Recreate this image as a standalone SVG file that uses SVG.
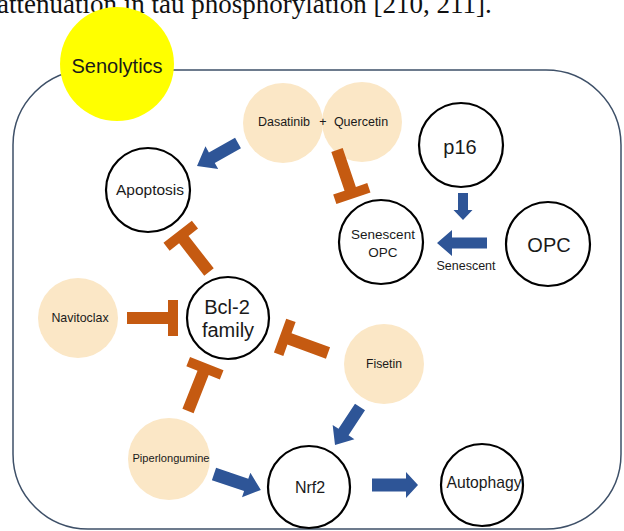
<svg xmlns="http://www.w3.org/2000/svg" width="624" height="531" viewBox="0 0 624 531">
<style>
.t{font-family:"Liberation Sans",Arial,sans-serif;fill:#1a1a1a;text-anchor:middle}
.n{fill:#fff;stroke:#000;stroke-width:2.2}
.d{fill:#fbe7c6}
.b{fill:#2e5597}
.o{fill:#c55a11}
</style>
<rect width="624" height="531" fill="#fff"/>
<text x="-3" y="13" style="font-family:'Liberation Serif','Times New Roman',serif;font-size:27px;fill:#111">attenuation in tau phosphorylation [210, 211].</text>
<rect id="frame" x="13" y="70" width="608" height="459" rx="75" ry="75" fill="none" stroke="#3e5068" stroke-width="1.5"/>
<g id="senolytics"><circle cx="117" cy="64" r="57" fill="#ffff00"/><text class="t" x="117" y="73" font-size="20">Senolytics</text></g>
<g id="dasatinib"><circle class="d" cx="283" cy="123" r="40"/><text class="t" x="284" y="126" font-size="12.5">Dasatinib</text></g>
<g id="quercetin"><circle class="d" cx="362" cy="122" r="40"/><text class="t" x="361" y="126" font-size="12.5">Quercetin</text></g>
<text class="t" x="323" y="126" font-size="12.5">+</text>
<g id="apoptosis"><circle class="n" cx="148" cy="190" r="42"/><text class="t" x="150" y="195" font-size="15.5">Apoptosis</text></g>
<g id="p16"><circle class="n" cx="461" cy="145" r="42"/><text class="t" x="460" y="154" font-size="20">p16</text></g>
<g id="senescent-opc"><circle class="n" cx="381" cy="242" r="42"/><text class="t" x="383" y="239" font-size="13.5">Senescent</text><text class="t" x="383" y="257" font-size="13.5">OPC</text></g>
<g id="opc"><circle class="n" cx="548" cy="244" r="42"/><text class="t" x="549" y="252" font-size="20">OPC</text></g>
<text class="t" x="466" y="270" font-size="12.5">Senescent</text>
<g id="bcl2"><circle class="n" cx="228" cy="318" r="41"/><text class="t" x="227" y="314" font-size="20">Bcl-2</text><text class="t" x="228" y="337" font-size="20">family</text></g>
<g id="navitoclax"><circle class="d" cx="78" cy="318" r="40"/><text class="t" x="80" y="322" font-size="12.4">Navitoclax</text></g>
<g id="fisetin"><circle class="d" cx="384" cy="364" r="40"/><text class="t" x="384" y="368" font-size="12.2">Fisetin</text></g>
<g id="piperlongumine"><circle class="d" cx="169" cy="459" r="41"/><text class="t" x="171" y="462" font-size="11.1">Piperlongumine</text></g>
<g id="nrf2"><circle class="n" cx="309" cy="487" r="41"/><text class="t" x="310" y="493" font-size="16">Nrf2</text></g>
<g id="autophagy"><circle class="n" cx="482" cy="485" r="41"/><text class="t" x="484" y="488" font-size="15.7">Autophagy</text></g>
<g id="connectors">
<path class="b" transform="translate(238,143) rotate(150.7)" d="M0,-6H30V-13L47,0L30,13V6H0Z"/>
<path class="b" transform="translate(463,193) rotate(90)" d="M0,-5H17V-9.5L27,0L17,9.5V5H0Z"/>
<path class="b" transform="translate(487,243) rotate(180)" d="M0,-5.5H35V-13L50,0L35,13V5.5H0Z"/>
<path class="b" transform="translate(360,407) rotate(123.3)" d="M0,-6H30V-13L45.5,0L30,13V6H0Z"/>
<path class="b" transform="translate(372,485) rotate(0)" d="M0,-6.5H34V-13L46,0L34,13V6.5H0Z"/>
<path class="b" transform="translate(214,474) rotate(18.8)" d="M0,-6.5H34V-13L49.5,0L34,13V6.5H0Z"/>
<path class="o" transform="translate(209,272) rotate(-127.9)" d="M0,-6H41V-18H51V18H41V6H0Z"/>
<path class="o" transform="translate(337,150) rotate(71.2)" d="M0,-6H41V-18H51V18H41V6H0Z"/>
<path class="o" transform="translate(127,318) rotate(0)" d="M0,-6H41V-18H51V18H41V6H0Z"/>
<path class="o" transform="translate(188,411) rotate(-68.4)" d="M0,-6H41V-18H51V18H41V6H0Z"/>
<path class="o" transform="translate(328,353) rotate(-160)" d="M0,-6H41V-18H51V18H41V6H0Z"/>
</g>
</svg>
